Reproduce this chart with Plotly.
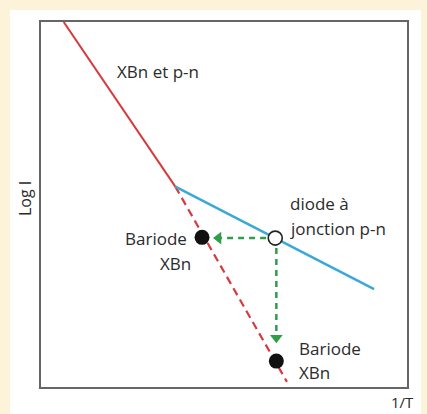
import plotly.graph_objects as go

# data (arbitrary units: 1/T on x, log I on y, both 0..100)
red_solid_x = [6.2, 36.7]
red_solid_y = [100.0, 54.9]
red_dash_x = [36.7, 67.2]
red_dash_y = [54.9, 1.4]
blue_x = [36.7, 91.0]
blue_y = [54.9, 26.8]
open_pt_x = [64.0]
open_pt_y = [40.8]
filled_x = [44.0, 64.3]
filled_y = [41.0, 7.1]
arrow_h_x = [61.5, 48.5]
arrow_h_y = [40.8, 40.8]
arrow_v_x = [64.3, 64.3]
arrow_v_y = [38.1, 13.5]

RED = "#D63A3C"
BLUE = "#3AA8D8"
GREEN = "#2E9E4B"
FONT = "Open Sans"

fig = go.Figure()
fig.add_trace(go.Scatter(x=red_solid_x, y=red_solid_y, mode="lines",
                         line=dict(color=RED, width=2)))
fig.add_trace(go.Scatter(x=red_dash_x, y=red_dash_y, mode="lines",
                         line=dict(color=RED, width=2.2, dash="8px,5px")))
fig.add_trace(go.Scatter(x=blue_x, y=blue_y, mode="lines",
                         line=dict(color=BLUE, width=2.5)))
fig.add_trace(go.Scatter(x=arrow_h_x, y=arrow_h_y, mode="lines",
                         line=dict(color=GREEN, width=2.5, dash="6px,5px")))
fig.add_trace(go.Scatter(x=arrow_v_x, y=arrow_v_y, mode="lines",
                         line=dict(color=GREEN, width=2.5, dash="6px,5px")))
fig.add_trace(go.Scatter(x=[arrow_h_x[-1]], y=[arrow_h_y[-1]], mode="markers",
                         marker=dict(symbol="triangle-left", size=11, color=GREEN)))
fig.add_trace(go.Scatter(x=[arrow_v_x[-1]], y=[arrow_v_y[-1]], mode="markers",
                         marker=dict(symbol="triangle-down", size=11, color=GREEN)))
fig.add_trace(go.Scatter(x=open_pt_x, y=open_pt_y, mode="markers",
                         marker=dict(symbol="circle", size=14, color="white",
                                     line=dict(color="#222", width=1.6))))
fig.add_trace(go.Scatter(x=filled_x, y=filled_y, mode="markers",
                         marker=dict(symbol="circle", size=15, color="#111",
                                     line=dict(width=0))))

W, H = 427, 414
L, R, T, B = 41, 407, 22, 387
pw, ph = R - L, B - T


def px(xp):
    return (xp - L) / pw


def py(yp):
    return (B - yp) / ph


fig.add_shape(type="rect", xref="paper", yref="paper",
              x0=px(10), x1=px(421), y0=py(416), y1=py(10),
              fillcolor="white", line=dict(width=0), layer="below")

tf = dict(family=FONT, size=17, color="#2b2b2b")
ann = [
    dict(x=20.3, y=86.4, text="XBn et p-n", xanchor="left"),
    dict(x=67.6, y=50.4, text="diode à", xanchor="left"),
    dict(x=67.6, y=43.3, text="jonction p-n", xanchor="left"),
    dict(x=31.4, y=40.8, text="Bariode", xanchor="center"),
    dict(x=36.7, y=33.9, text="XBn", xanchor="center"),
    dict(x=70.0, y=10.6, text="Bariode", xanchor="left"),
    dict(x=70.0, y=4.0, text="XBn", xanchor="left"),
]
for a in ann:
    fig.add_annotation(x=a["x"], y=a["y"], text=a["text"], xanchor=a["xanchor"],
                       yanchor="middle", showarrow=False, font=tf)

fig.add_annotation(xref="paper", yref="paper", x=px(25), y=py(199), text="Log I",
                   textangle=-90, showarrow=False, xanchor="center", yanchor="middle",
                   font=dict(family=FONT, size=16, color="#2b2b2b"))
fig.add_annotation(xref="paper", yref="paper", x=px(416), y=py(402), text="1/T",
                   showarrow=False, xanchor="right", yanchor="middle",
                   font=dict(family=FONT, size=15, color="#2b2b2b"))

axis = dict(range=[0, 100], showgrid=False, zeroline=False, showticklabels=False,
            ticks="", showline=True, mirror=True, linecolor="#666", linewidth=1.5,
            fixedrange=True)
fig.update_layout(
    width=W, height=H,
    margin=dict(l=L, r=W - R, t=T, b=H - B, pad=0),
    paper_bgcolor="#FCF3DA",
    plot_bgcolor="white",
    showlegend=False,
    xaxis=axis, yaxis=axis,
)

fig.write_html("out.html", config={"displayModeBar": False},
               post_script="document.body.style.margin='0';document.body.style.padding='0';")
